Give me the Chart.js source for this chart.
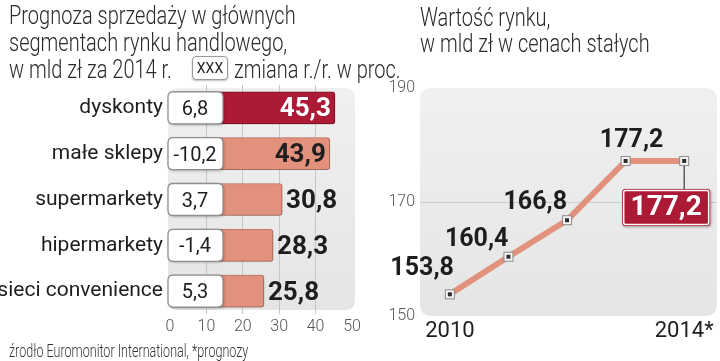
<!DOCTYPE html>
<html><head><meta charset="utf-8">
<script src="https://cdn.jsdelivr.net/npm/chart.js@4.4.1/dist/chart.umd.min.js"></script>
<style>
html,body{margin:0;padding:0;background:#fff;width:720px;height:361px;overflow:hidden;position:relative;}
.t{position:absolute;white-space:nowrap;font-family:Roboto,sans-serif;font-weight:300;color:#2a2a2a;transform-origin:0 0;line-height:1;}
#c1{position:absolute;left:0;top:0;}
#c2{position:absolute;left:370px;top:0;}
.key{position:absolute;left:192px;top:56px;width:34px;height:22px;border:1.5px solid #9a9a9a;border-radius:4px;background:#fff;box-shadow:0 1px 2px rgba(0,0,0,.25);font-family:Roboto,sans-serif;font-size:14px;line-height:22px;text-align:center;color:#222;}
</style></head><body>
<canvas id="c1" width="370" height="361"></canvas>
<canvas id="c2" width="350" height="361"></canvas>
<div class="t" style="left:9px;top:3px;font-size:25px;transform:scaleX(0.8)">Prognoza sprzedaży w głównych</div>
<div class="t" style="left:9px;top:30px;font-size:25px;transform:scaleX(0.8)">segmentach rynku handlowego,</div>
<div class="t" style="left:9px;top:57px;font-size:25px;transform:scaleX(0.8)">w mld zł za 2014 r.</div>
<div class="key">XXX</div>
<div class="t" style="left:234px;top:57px;font-size:25px;transform:scaleX(0.8)">zmiana r./r. w proc.</div>
<div class="t" style="left:420px;top:5px;font-size:25px;transform:scaleX(0.8)">Wartość rynku,</div>
<div class="t" style="left:420px;top:31px;font-size:25px;transform:scaleX(0.8)">w mld zł w cenach stałych</div>
<div class="t" style="left:9px;top:341px;font-size:19px;color:#333;transform:scaleX(0.66)">źrodło Euromonitor International, *prognozy</div>
<script>
// ---- data ----
const categories = ['dyskonty', 'małe sklepy', 'supermarkety', 'hipermarkety', 'sieci convenience'];
const sales2014 = [45.3, 43.9, 30.8, 28.3, 25.8];
const changeYoY = [6.8, -10.2, 3.7, -1.4, 5.3];
const salesTicks = [0, 10, 20, 30, 40, 50];

const years = [2010, 2011, 2012, 2013, 2014];
const marketValue = [153.8, 160.4, 166.8, 177.2, 177.2];
const valueTicks = [150, 170, 190];
const forecastYears = [2014];

// ---- styles ----
const FONT = 'Roboto, sans-serif';
const DARK_RED = '#ad1a35';
const SALMON = '#e1917c';
const fmt = v => v.toFixed(1).replace('.', ',');

function rr(ctx, x, y, w, h, r) {
  ctx.beginPath();
  ctx.moveTo(x + r, y);
  ctx.lineTo(x + w - r, y); ctx.quadraticCurveTo(x + w, y, x + w, y + r);
  ctx.lineTo(x + w, y + h - r); ctx.quadraticCurveTo(x + w, y + h, x + w - r, y + h);
  ctx.lineTo(x + r, y + h); ctx.quadraticCurveTo(x, y + h, x, y + h - r);
  ctx.lineTo(x, y + r); ctx.quadraticCurveTo(x, y, x + r, y);
  ctx.closePath();
}

function panel(ctx, a, dl, dt, dr, db, r) {
  ctx.save();
  const g = ctx.createLinearGradient(0, a.top, 0, a.bottom);
  g.addColorStop(0, '#f0f0f0');
  g.addColorStop(1, '#e5e5e5');
  ctx.fillStyle = g;
  rr(ctx, a.left + dl, a.top + dt, a.right - a.left - dl + dr, a.bottom - a.top - dt + db, r);
  ctx.fill();
  ctx.restore();
}

// ---- left chart ----
const leftPlugin = {
  id: 'leftDeco',
  beforeDraw(chart) {
    panel(chart.ctx, chart.chartArea, -2, 3, 3, -4, 10);
  },
  beforeDatasetsDraw(chart) {
    const ctx = chart.ctx;
    ctx.save();
    ctx.shadowColor = 'rgba(0,0,0,0.28)';
    ctx.shadowBlur = 3; ctx.shadowOffsetX = 1; ctx.shadowOffsetY = 1;
  },
  afterDatasetsDraw(chart) {
    const ctx = chart.ctx;
    ctx.restore();
    const meta = chart.getDatasetMeta(0);
    const x0 = chart.scales.x.getPixelForValue(0);
    meta.data.forEach((bar, i) => {
      const h = bar.height;
      const top = bar.y - h / 2;
      // change box
      ctx.save();
      ctx.shadowColor = 'rgba(0,0,0,0.3)';
      ctx.shadowBlur = 3; ctx.shadowOffsetX = 1; ctx.shadowOffsetY = 1;
      rr(ctx, x0 - 2, top, 55, h, 5);
      ctx.fillStyle = '#fff';
      ctx.fill();
      ctx.shadowColor = 'transparent';
      ctx.lineWidth = 1.3;
      ctx.strokeStyle = '#8f8f8f';
      ctx.stroke();
      ctx.fillStyle = '#1e1e1e';
      ctx.font = '20px ' + FONT;
      ctx.textAlign = 'center';
      ctx.textBaseline = 'middle';
      ctx.fillText(fmt(changeYoY[i]), x0 + 25, bar.y + 2);
      ctx.restore();
      // value label
      const v = sales2014[i];
      ctx.save();
      ctx.font = 'bold 26px ' + FONT;
      ctx.textBaseline = 'middle';
      if (v > 35) {
        ctx.textAlign = 'right';
        ctx.fillStyle = i === 0 ? '#fff' : '#1e1e1e';
        ctx.fillText(fmt(v), bar.x - 4, bar.y + 2);
      } else {
        ctx.textAlign = 'left';
        ctx.fillStyle = '#1e1e1e';
        ctx.fillText(fmt(v), bar.x + 4, bar.y + 2);
      }
      ctx.restore();
    });
  }
};

new Chart(document.getElementById('c1'), {
  type: 'bar',
  data: {
    labels: categories,
    datasets: [{
      data: sales2014,
      backgroundColor: sales2014.map((v, i) => i === 0 ? DARK_RED : SALMON),
      borderColor: sales2014.map((v, i) => i === 0 ? '#8e1429' : '#c97d69'),
      borderWidth: 1,
      borderRadius: 3,
      borderSkipped: false,
      barThickness: 32
    }]
  },
  options: {
    indexAxis: 'y',
    responsive: false,
    animation: false,
    events: [],
    layout: { padding: { top: 85, bottom: 17, left: 0, right: 18 } },
    plugins: { legend: { display: false }, tooltip: { enabled: false } },
    scales: {
      y: {
        type: 'category',
        afterFit: s => { s.width = 170; },
        grid: { display: false, drawTicks: false },
        border: { display: false },
        ticks: { color: '#1e1e1e', padding: 7, font: { family: FONT, size: 21 } }
      },
      x: {
        min: salesTicks[0],
        max: salesTicks[salesTicks.length - 1],
        afterBuildTicks: s => { s.ticks = salesTicks.map(v => ({ value: v })); },
        afterFit: s => { s.height = 30; },
        grid: {
          drawTicks: false,
          color: c => (c.tick && (c.tick.value === salesTicks[0] || c.tick.value === salesTicks[salesTicks.length - 1])) ? 'rgba(0,0,0,0)' : '#c6c6c6',
          lineWidth: 1
        },
        border: { display: false },
        ticks: { color: '#555', padding: 3, font: { family: FONT, weight: 300, size: 16 } }
      }
    }
  },
  plugins: [leftPlugin]
});

// ---- right chart ----
const rightPlugin = {
  id: 'rightDeco',
  beforeDraw(chart) {
    panel(chart.ctx, chart.chartArea, 0, 0, 0, 0, 12);
  },
  afterDatasetsDraw(chart) {
    const ctx = chart.ctx;
    const meta = chart.getDatasetMeta(0);
    const n = meta.data.length;
    // connector + highlighted box for last point
    const last = meta.data[n - 1];
    ctx.save();
    ctx.strokeStyle = '#3a3a3a';
    ctx.lineWidth = 1.2;
    ctx.beginPath();
    ctx.moveTo(last.x, last.y);
    ctx.lineTo(last.x, last.y + 28);
    ctx.stroke();
    const bw = 88, bh = 37, bx = last.x - 62, by = last.y + 28;
    ctx.shadowColor = 'rgba(0,0,0,0.35)';
    ctx.shadowBlur = 3; ctx.shadowOffsetX = 1; ctx.shadowOffsetY = 1;
    rr(ctx, bx, by, bw, bh, 3);
    ctx.fillStyle = DARK_RED;
    ctx.fill();
    ctx.shadowColor = 'transparent';
    ctx.strokeStyle = '#fff';
    ctx.lineWidth = 1.5;
    rr(ctx, bx + 1.5, by + 1.5, bw - 3, bh - 3, 2);
    ctx.stroke();
    ctx.fillStyle = '#fff';
    ctx.font = 'bold 28px ' + FONT;
    ctx.textAlign = 'center';
    ctx.textBaseline = 'middle';
    ctx.fillText(fmt(marketValue[n - 1]), bx + bw / 2, by + bh / 2 + 1);
    ctx.restore();
    // markers
    meta.data.forEach(p => {
      ctx.save();
      ctx.fillStyle = '#f6f6f6';
      ctx.strokeStyle = '#8a8a8a';
      ctx.lineWidth = 1;
      ctx.fillRect(p.x - 4.5, p.y - 4.5, 9, 9);
      ctx.strokeRect(p.x - 4.5, p.y - 4.5, 9, 9);
      ctx.fillStyle = '#2e2e2e';
      ctx.fillRect(p.x - 2, p.y - 2, 4, 4);
      ctx.restore();
    });
    // value labels
    ctx.save();
    ctx.font = 'bold 25px ' + FONT;
    ctx.fillStyle = '#1e1e1e';
    ctx.textBaseline = 'alphabetic';
    meta.data.forEach((p, i) => {
      if (i === n - 1) return;
      if (i === n - 2) {
        ctx.textAlign = 'center';
        ctx.fillText(fmt(marketValue[i]), p.x + 6, p.y - 14);
      } else {
        ctx.textAlign = 'right';
        ctx.fillText(fmt(marketValue[i]), p.x + (i === 0 ? 4 : 0), p.y - (i === 0 ? 19 : 11));
      }
    });
    ctx.restore();
  }
};

new Chart(document.getElementById('c2'), {
  type: 'line',
  data: {
    datasets: [{
      data: years.map((y, i) => ({ x: y, y: marketValue[i] })),
      borderColor: SALMON,
      borderWidth: 6,
      pointRadius: 0,
      tension: 0,
      fill: false,
      clip: false
    }]
  },
  options: {
    responsive: false,
    animation: false,
    events: [],
    layout: { padding: { top: 88, bottom: 5, left: 0, right: 3 } },
    plugins: { legend: { display: false }, tooltip: { enabled: false } },
    scales: {
      x: {
        type: 'linear',
        min: years[0] - 0.51,
        max: years[years.length - 1] + 0.56,
        afterBuildTicks: s => { s.ticks = [years[0], years[years.length - 1]].map(v => ({ value: v })); },
        afterFit: s => { s.height = 40; },
        grid: { display: false, drawTicks: false },
        border: { display: false },
        ticks: {
          color: '#1e1e1e', padding: 2, maxRotation: 0,
          font: { family: FONT, size: 22 },
          callback: v => forecastYears.includes(v) ? v + '*' : String(v)
        }
      },
      y: {
        min: valueTicks[0],
        max: valueTicks[valueTicks.length - 1],
        afterBuildTicks: s => { s.ticks = valueTicks.map(v => ({ value: v })); },
        afterFit: s => { s.width = 50; },
        grid: {
          drawTicks: false,
          color: c => (c.tick && c.tick.value === valueTicks[1]) ? '#cdcdcd' : 'rgba(0,0,0,0)'
        },
        border: { display: false },
        ticks: { color: '#555', padding: 5, font: { family: FONT, weight: 300, size: 16 } }
      }
    }
  },
  plugins: [rightPlugin]
});
</script>
</body></html>
